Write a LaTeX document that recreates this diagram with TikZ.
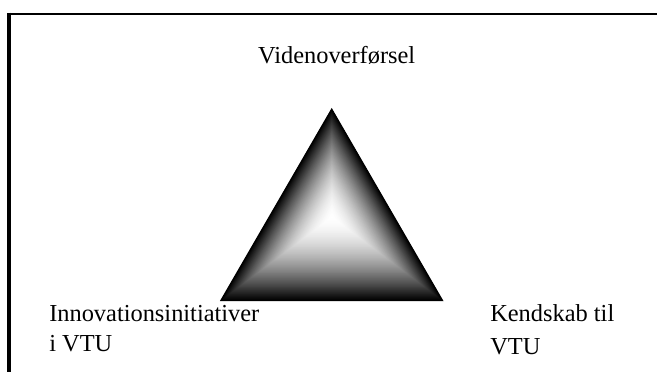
\documentclass[tikz,border=0pt]{standalone}
\usepackage{fontspec}
\setmainfont{Liberation Serif}
\usetikzlibrary{calc}
\begin{document}
\begin{tikzpicture}[x=0.75pt,y=0.75pt,
    lbl/.style={font=\fontsize{18.3}{22.5}\selectfont,inner sep=0pt,align=left}]
  \useasboundingbox (0,0) rectangle (657,372);
  %\draw[gray,dash pattern=on 1pt off 1pt,step=20] (0,0) grid (657,372);
  \draw[line width=1.5pt] (657,358.3) -- (7.3,358.3);
  \draw[line width=2.6pt] (9.2,359.3) -- (9.2,0);
  \coordinate (top) at (331.7,263);
  \coordinate (lft) at (220.7,71.3);
  \coordinate (rgt) at (442.7,71.3);
  \coordinate (mid) at (332,155);
  % concentric triangles, dark at the edges, white in the middle
  \foreach \i in {0,...,89}{
    \pgfmathsetmacro{\s}{1-\i/90}
    \pgfmathsetmacro{\g}{100*\s^1.7}
    \fill[black!\g!white] ($(mid)!\s!(top)$) -- ($(mid)!\s!(lft)$) -- ($(mid)!\s!(rgt)$) -- cycle;
  }
  \draw[line width=0.8pt] (top) -- (lft) -- (rgt) -- cycle;
  \node[lbl,anchor=base] (vid) at (336.7,308) {Videnoverførsel};
  % base of a two-line node is the base of its last line
  \node[lbl,anchor=base west] (inn) at (49,20.3) {Innovationsinitiativer\\i VTU};
  \node[lbl,anchor=base west] (ken) at (490,18) {Kendskab til\\[2.25pt]VTU};
\end{tikzpicture}
\end{document}
